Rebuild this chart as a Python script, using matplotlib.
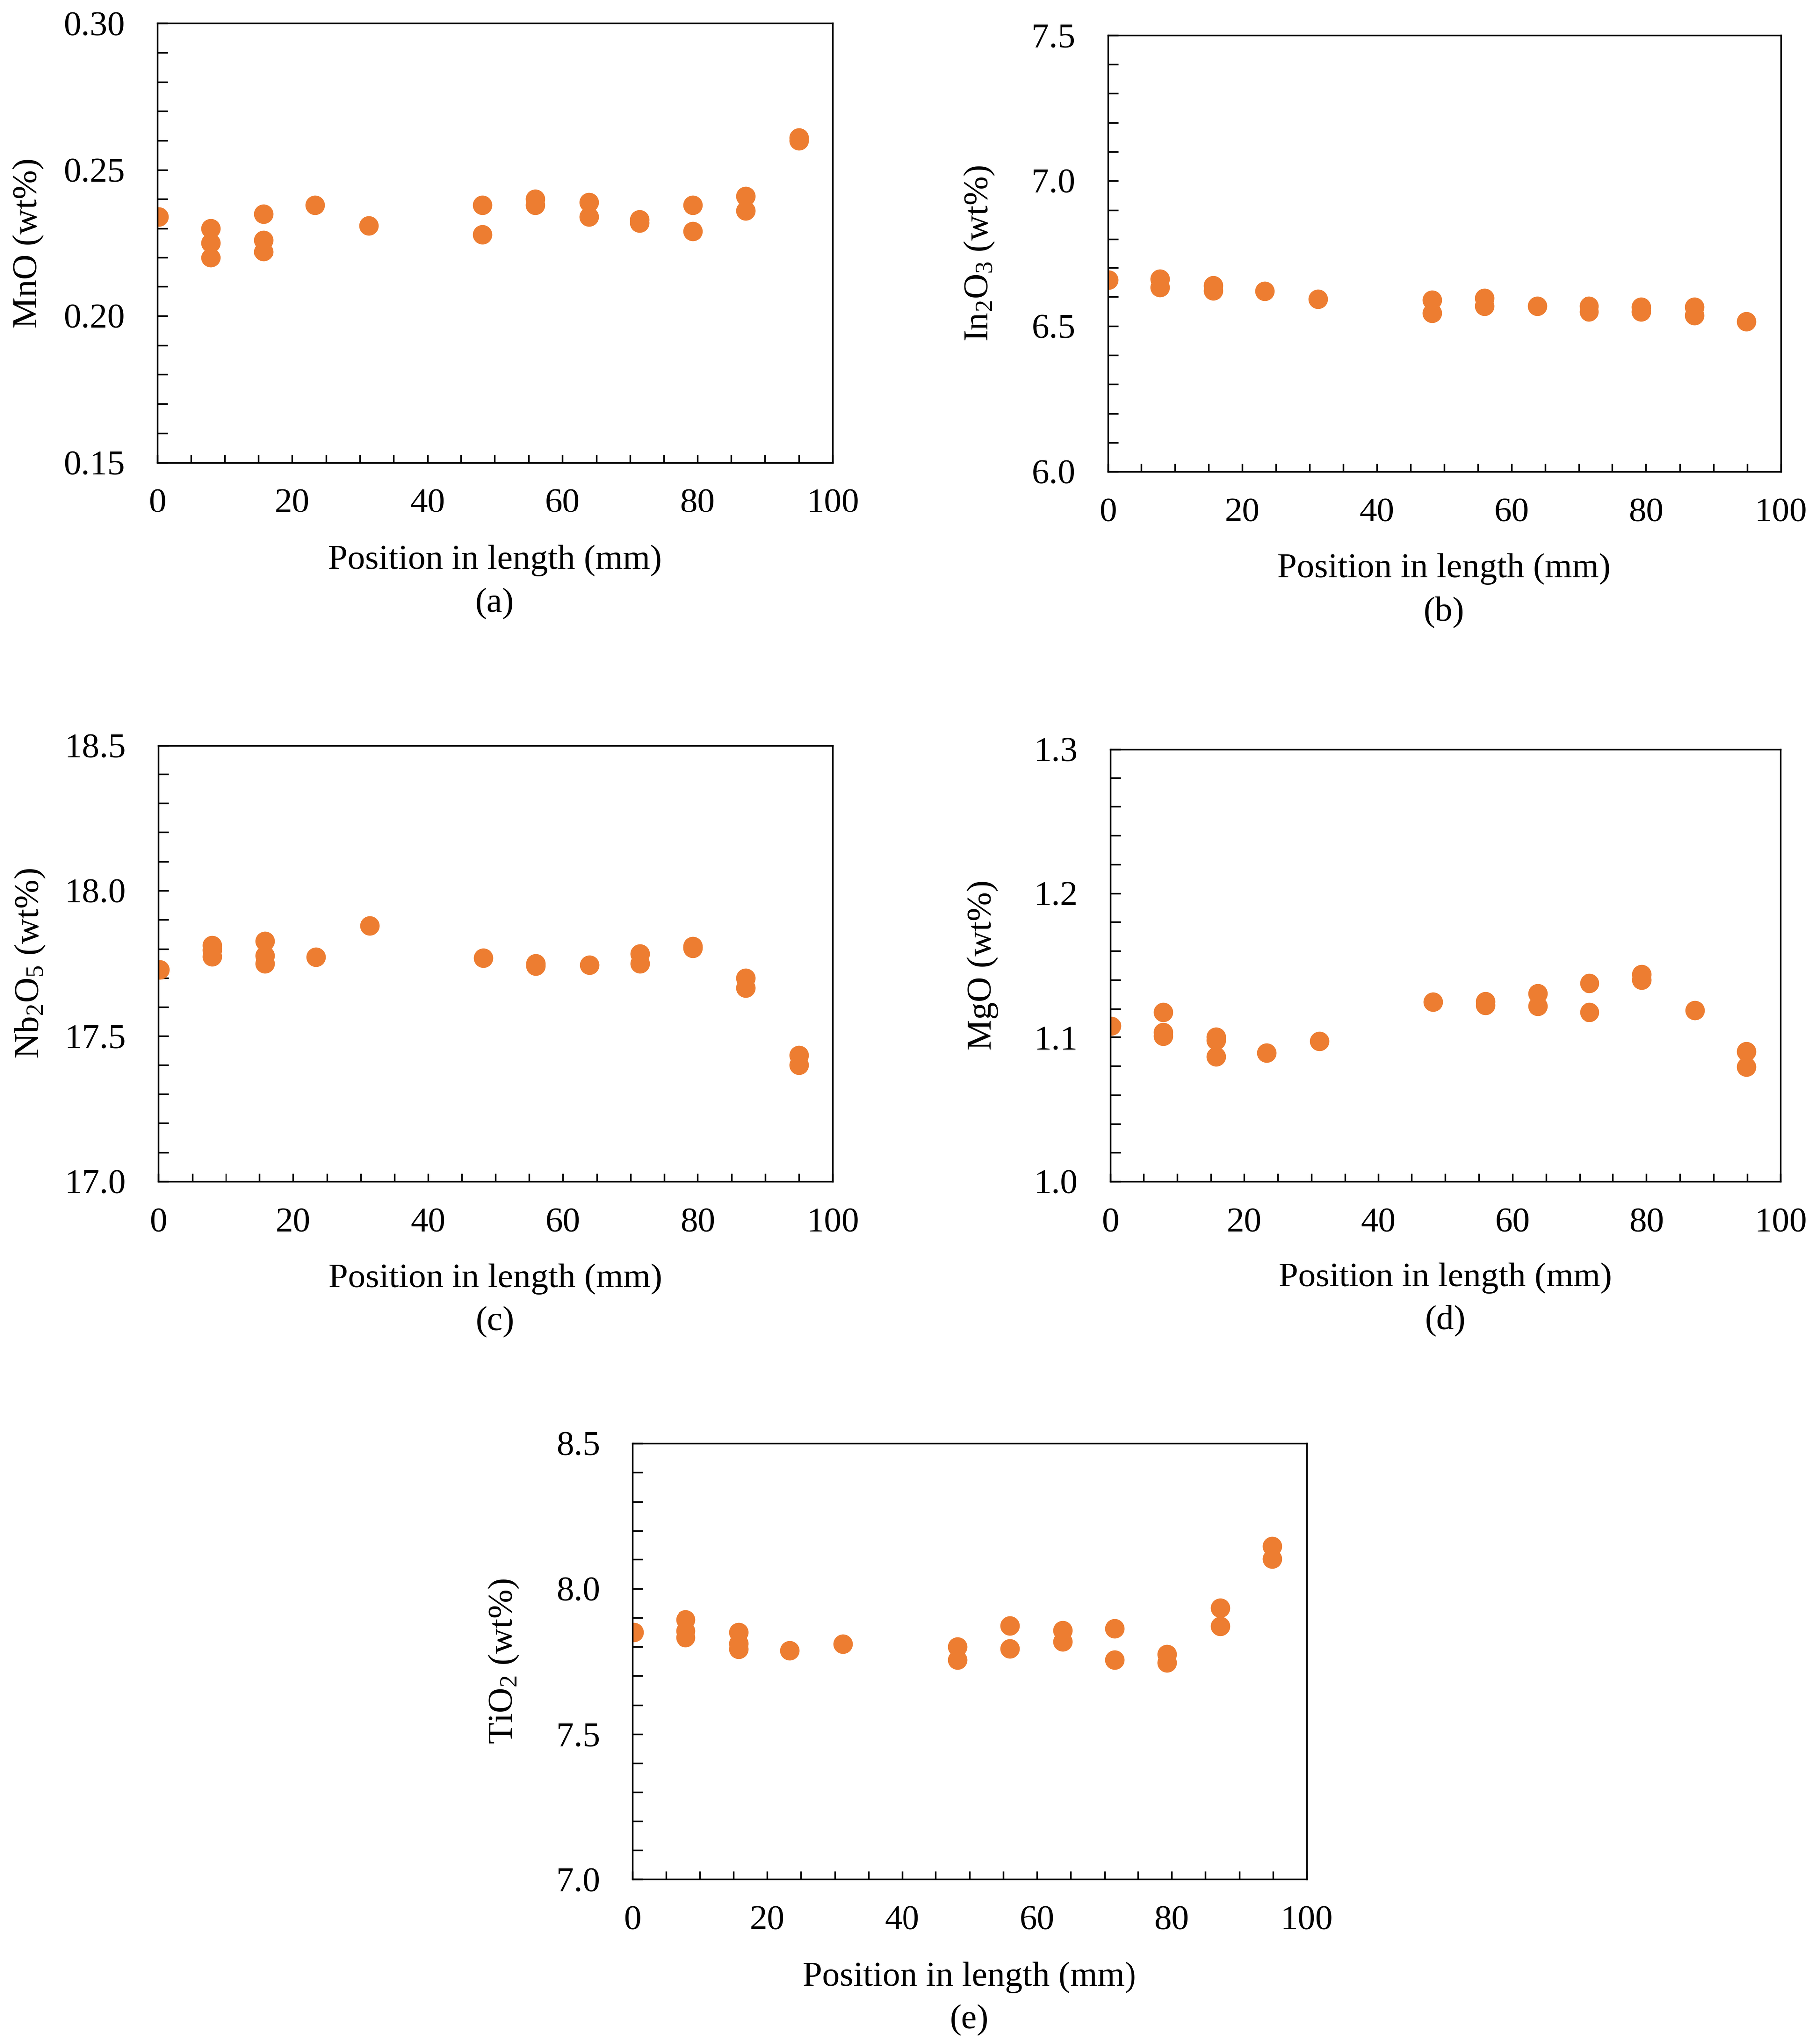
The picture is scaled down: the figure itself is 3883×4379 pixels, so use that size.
import numpy as np
import matplotlib
matplotlib.use('Agg')
import matplotlib.pyplot as plt
from matplotlib.ticker import MultipleLocator, FormatStrFormatter

plt.rcParams['font.family'] = ['Liberation Serif', 'DejaVu Serif']
plt.rcParams['mathtext.fontset'] = 'custom'
plt.rcParams['mathtext.rm'] = 'Liberation Serif'
plt.rcParams['mathtext.it'] = 'Liberation Serif:italic'

ORANGE = '#ED7D31'

# (a) MnO
pos_a = [0.2, 7.9, 7.9, 7.9, 15.8, 15.8, 15.8, 23.4, 31.3, 48.2, 48.2, 56.0, 56.0,
         63.9, 63.9, 71.4, 71.4, 79.3, 79.3, 87.1, 87.1, 95.0, 95.0]
mno = [0.234, 0.230, 0.225, 0.220, 0.235, 0.226, 0.222, 0.238, 0.231, 0.238, 0.228,
       0.240, 0.238, 0.239, 0.234, 0.233, 0.232, 0.238, 0.229, 0.241, 0.236, 0.261, 0.260]

# (b) In2O3
pos_b = [0.1, 7.8, 7.8, 15.7, 15.7, 23.3, 31.2, 48.2, 48.2, 56.0, 56.0, 63.8,
         71.5, 71.5, 79.3, 79.3, 87.2, 87.2, 94.9]
in2o3 = [6.658, 6.662, 6.633, 6.640, 6.622, 6.620, 6.593, 6.590, 6.544, 6.596, 6.569,
         6.569, 6.568, 6.550, 6.566, 6.550, 6.566, 6.536, 6.515]

# (c) Nb2O5
pos_c = [0.2, 7.9, 7.9, 7.9, 15.8, 15.8, 15.8, 23.4, 31.3, 48.2, 56.0, 56.0, 63.9,
         71.4, 71.4, 79.3, 79.3, 87.1, 87.1, 95.0, 95.0]
nb2o5 = [17.729, 17.813, 17.796, 17.774, 17.826, 17.777, 17.749, 17.772, 17.880,
         17.769, 17.749, 17.742, 17.745, 17.784, 17.749, 17.809, 17.802, 17.700,
         17.667, 17.433, 17.399]

# (d) MgO
pos_d = [0.1, 7.9, 7.9, 7.9, 15.8, 15.8, 15.8, 23.3, 31.2, 48.2, 56.0, 56.0, 63.8,
         63.8, 71.5, 71.5, 79.3, 79.3, 87.2, 94.9, 94.9]
mgo = [1.108, 1.1176, 1.1035, 1.1006, 1.100, 1.0977, 1.0864, 1.089, 1.0971, 1.1246,
       1.1251, 1.1225, 1.1306, 1.1217, 1.1376, 1.1176, 1.1439, 1.1399, 1.1188,
       1.0902, 1.0795]

# (e) TiO2
pos_e = [0.2, 7.9, 7.9, 7.9, 15.8, 15.8, 15.8, 23.3, 31.2, 48.2, 48.2, 56.0, 56.0,
         63.8, 63.8, 71.5, 71.5, 79.3, 79.3, 87.2, 87.2, 94.9, 94.9]
tio2 = [7.850, 7.894, 7.854, 7.833, 7.850, 7.811, 7.792, 7.788, 7.810, 7.800, 7.756,
        7.872, 7.794, 7.857, 7.818, 7.862, 7.756, 7.775, 7.745, 7.933, 7.871,
        8.145, 8.102]

panels = [
    # rect, x, y, ylabel, ylim, major, minor, fmt, letter
    ([0.0867, 0.7738, 0.3728, 0.2147], pos_a, mno, 'MnO (wt%)', (0.15, 0.30), 0.05, 0.01, '%.2f', '(a)'),
    ([0.6113, 0.7693, 0.3714, 0.2134], pos_b, in2o3, 'In$_2$O$_3$ (wt%)', (6.0, 7.5), 0.5, 0.1, '%.1f', '(b)'),
    ([0.0874, 0.4220, 0.3721, 0.2134], pos_c, nb2o5, 'Nb$_2$O$_5$ (wt%)', (17.0, 18.5), 0.5, 0.1, '%.1f', '(c)'),
    ([0.6127, 0.4220, 0.3699, 0.2115], pos_d, mgo, 'MgO (wt%)', (1.0, 1.3), 0.1, 0.02, '%.1f', '(d)'),
    ([0.3490, 0.0805, 0.3721, 0.2134], pos_e, tio2, 'TiO$_2$ (wt%)', (7.0, 8.5), 0.5, 0.1, '%.1f', '(e)'),
]

fig = plt.figure(figsize=(38.83, 43.79), dpi=100)

for rect, x, y, ylab, ylim, major, minor, fmt, letter in panels:
    ax = fig.add_axes(rect)
    ax.plot(x, y, 'o', color=ORANGE, markersize=30, markeredgewidth=0)
    ax.set_xlim(0, 100)
    ax.set_ylim(*ylim)
    ax.xaxis.set_major_locator(MultipleLocator(20))
    ax.xaxis.set_minor_locator(MultipleLocator(5))
    ax.yaxis.set_major_locator(MultipleLocator(major))
    ax.yaxis.set_minor_locator(MultipleLocator(minor))
    ax.yaxis.set_major_formatter(FormatStrFormatter(fmt))
    for s in ax.spines.values():
        s.set_linewidth(2.5)
    ax.tick_params(axis='both', which='both', direction='in', width=2.5,
                   top=False, right=False, labelsize=54)
    ax.tick_params(axis='y', which='both', length=16, pad=50)
    ax.tick_params(axis='x', which='both', length=12, pad=40)
    ax.set_ylabel(ylab, fontsize=54)
    ax.yaxis.label.set_va('center')
    ax.yaxis.set_label_coords(-0.19, 0.5)
    ax.set_xlabel('Position in length (mm)', fontsize=54)
    ax.xaxis.label.set_va('center')
    ax.xaxis.set_label_coords(0.5, -0.224)
    ax.text(0.5, -0.322, letter, transform=ax.transAxes, ha='center', va='center',
            fontsize=54)

fig.savefig('out.png', dpi=100)
